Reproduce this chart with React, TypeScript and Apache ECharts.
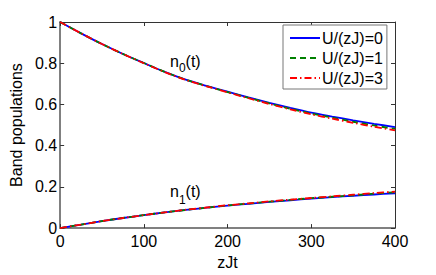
import React, { useEffect, useRef } from "react";
import * as echarts from "echarts";

const T = [0, 25, 50, 75, 100, 125, 150, 175, 200, 225, 250, 275, 300, 325, 350, 375, 400];
const N0_U0 = [1.0, 0.945, 0.893, 0.845, 0.801, 0.758, 0.72, 0.69, 0.662, 0.634, 0.608, 0.583, 0.56, 0.541, 0.523, 0.506, 0.49];
const N0_U1 = [1.0, 0.945, 0.893, 0.845, 0.801, 0.758, 0.72, 0.689, 0.66, 0.632, 0.605, 0.579, 0.556, 0.536, 0.516, 0.498, 0.481];
const N0_U3 = [1.0, 0.945, 0.893, 0.845, 0.8, 0.757, 0.719, 0.688, 0.659, 0.63, 0.602, 0.576, 0.552, 0.531, 0.511, 0.492, 0.474];
const N1_U0 = [0, 0.017, 0.034, 0.049, 0.063, 0.076, 0.088, 0.099, 0.109, 0.118, 0.127, 0.135, 0.143, 0.15, 0.157, 0.163, 0.169];
const N1_U1 = [0, 0.017, 0.034, 0.049, 0.063, 0.076, 0.088, 0.099, 0.11, 0.119, 0.128, 0.137, 0.145, 0.152, 0.159, 0.167, 0.174];
const N1_U3 = [0, 0.017, 0.034, 0.049, 0.063, 0.076, 0.089, 0.1, 0.111, 0.12, 0.13, 0.138, 0.146, 0.154, 0.162, 0.17, 0.177];
const NAMES = ["U/(zJ)=0", "U/(zJ)=1", "U/(zJ)=3"];
const X_TICKS = { min: 0, max: 400, interval: 100 };
const Y_TICKS = { min: 0, max: 1, interval: 0.2 };

const FONT = "Liberation Sans, Arial, Helvetica, sans-serif";

export default function App() {
  const ref = useRef<HTMLDivElement>(null);
  useEffect(() => {
    if (!ref.current) return;
    const chart = echarts.init(ref.current, undefined, { renderer: "svg" });
    const pairs = (arr: number[]) => T.map((t, i) => [t, arr[i]]);
    const styles = [
      { color: "#0000ff", type: "solid" as any },
      { color: "#008000", type: [6, 4] as any },
      { color: "#ff0000", type: [7, 3, 1.5, 3] as any },
    ];
    const groups = [
      [N0_U0, N1_U0],
      [N0_U1, N1_U1],
      [N0_U3, N1_U3],
    ];
    const series: any[] = [];
    groups.forEach((g, k) => {
      g.forEach((arr) => {
        series.push({
          type: "line",
          name: NAMES[k],
          data: pairs(arr),
          symbol: "none",
          smooth: 0.3,
          lineStyle: { color: styles[k].color, type: styles[k].type, width: 1.8 },
          itemStyle: { color: styles[k].color },
        });
      });
    });
    const tickStyle = { show: true, inside: true, length: 4, lineStyle: { color: "#333", width: 1 } };
    chart.setOption({
      animation: false,
      grid: { left: 57, right: 41, top: 22, bottom: 41, containLabel: false },
      legend: {
        left: 283,
        top: 25,
        orient: "vertical",
        backgroundColor: "#fff",
        borderColor: "#777",
        borderWidth: 1,
        borderRadius: 0,
        padding: [5, 4, 3, 6],
        itemGap: 4,
        itemWidth: 30,
        itemHeight: 16,
        itemStyle: { opacity: 0 },
        textStyle: { fontFamily: FONT, fontSize: 16, color: "#000", padding: [0, 0, 0, -3] },
        data: NAMES,
      },
      xAxis: [
        {
          type: "value",
          position: "bottom",
          ...X_TICKS,
          name: "zJt",
          nameLocation: "middle",
          nameGap: 23,
          nameTextStyle: { fontFamily: FONT, fontSize: 16, color: "#000" },
          axisLine: { show: true, lineStyle: { color: "#808080", width: 2 } },
          axisTick: tickStyle,
          axisLabel: { fontFamily: FONT, fontSize: 16, color: "#000", margin: 5 },
          splitLine: { show: false },
        },
        {
          type: "value",
          position: "top",
          ...X_TICKS,
          axisLine: { show: true, onZero: false, lineStyle: { color: "#333", width: 1 } },
          axisTick: tickStyle,
          axisLabel: { show: false },
          splitLine: { show: false },
        },
      ],
      yAxis: [
        {
          type: "value",
          position: "left",
          ...Y_TICKS,
          name: "Band populations",
          nameLocation: "middle",
          nameGap: 32,
          nameTextStyle: { fontFamily: FONT, fontSize: 16, color: "#000" },
          axisLine: { show: true, lineStyle: { color: "#808080", width: 2 } },
          axisTick: tickStyle,
          axisLabel: { fontFamily: FONT, fontSize: 16, color: "#000", margin: 3 },
          splitLine: { show: false },
        },
        {
          type: "value",
          position: "right",
          ...Y_TICKS,
          axisLine: { show: true, onZero: false, lineStyle: { color: "#333", width: 1 } },
          axisTick: tickStyle,
          axisLabel: { show: false },
          splitLine: { show: false },
        },
      ],
      series,
      graphic: [
        { type: "text", x: 170, y: 61, style: { text: "n", font: `16px ${FONT}`, fill: "#000", align: "left", verticalAlign: "middle" } },
        { type: "text", x: 178.9, y: 67.8, style: { text: "0", font: `12px ${FONT}`, fill: "#000", align: "left", verticalAlign: "middle" } },
        { type: "text", x: 185.6, y: 61, style: { text: "(t)", font: `16px ${FONT}`, fill: "#000", align: "left", verticalAlign: "middle" } },
        { type: "text", x: 170, y: 191, style: { text: "n", font: `16px ${FONT}`, fill: "#000", align: "left", verticalAlign: "middle" } },
        { type: "text", x: 178.9, y: 199.8, style: { text: "1", font: `12px ${FONT}`, fill: "#000", align: "left", verticalAlign: "middle" } },
        { type: "text", x: 185.6, y: 191, style: { text: "(t)", font: `16px ${FONT}`, fill: "#000", align: "left", verticalAlign: "middle" } },
      ],
    });
    return () => chart.dispose();
  }, []);
  return <div ref={ref} style={{ width: 436, height: 275, position: "absolute", left: 0, top: 0, background: "#fff" }} />;
}
